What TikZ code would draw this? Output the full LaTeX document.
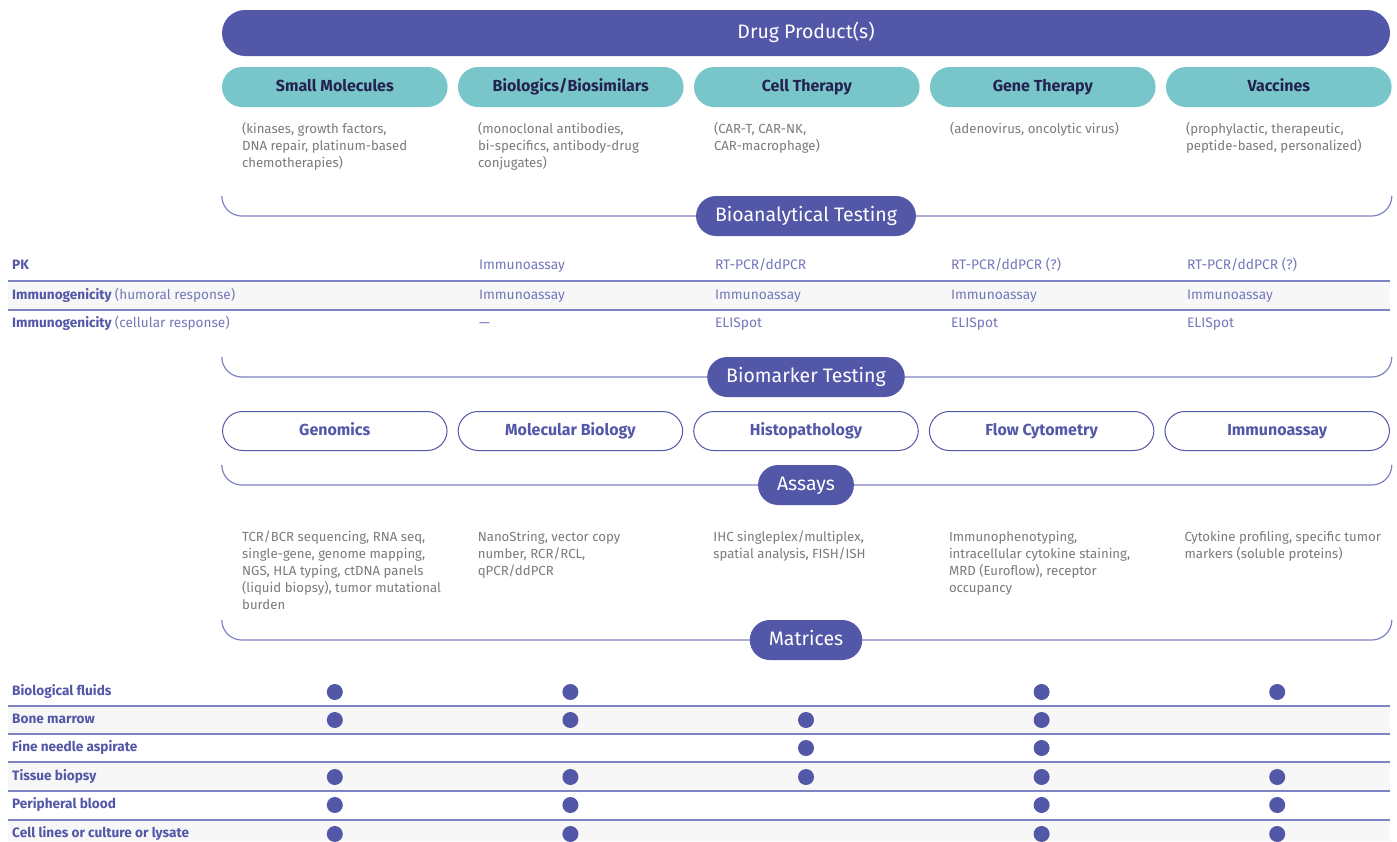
\documentclass[tikz,border=0pt]{standalone}
\usepackage{fontspec}
\setmainfont{Fira Sans}
\usepackage{tikz}
\usetikzlibrary{positioning}
\usepackage{xcolor}
\definecolor{drugPurple}{HTML}{5257A8}
\definecolor{drugTeal}{HTML}{79C6CA}
\definecolor{drugNavy}{HTML}{24224F}
\definecolor{drugGrey}{HTML}{7A7B7D}
\definecolor{cellPurple}{HTML}{7478BA}
\definecolor{rulePurple}{HTML}{7E83C3}
\definecolor{rowShade}{HTML}{F7F7F7}

\newcommand{\sublabel}[1]{{\mdseries\color{cellPurple}#1}}

\begin{document}
\begin{tikzpicture}[
        x=1pt, y=-1pt,
        node distance=10pt,
        headbar/.style={
          rectangle, rounded corners=23pt, fill=drugPurple,
          text=white, minimum width=1168pt, minimum height=46pt,
          text height=14pt, text depth=4pt,
          font=\fontsize{19.5}{22}\selectfont
        },
        typepill/.style={
          rectangle, rounded corners=20pt, fill=drugTeal,
          text=drugNavy, minimum width=225.6pt, minimum height=40pt,
          text height=11.5pt, text depth=3.5pt,
          font=\bfseries\fontsize{16}{18}\selectfont
        },
        assaypill/.style={
          rectangle, rounded corners=20pt, draw=drugPurple, line width=1pt,
          fill=white, text=drugPurple,
          minimum width=224.6pt, minimum height=39pt,
          text height=11.5pt, text depth=3.5pt,
          font=\bfseries\fontsize{16}{18}\selectfont
        },
        sectionpill/.style={
          rectangle, rounded corners=20pt, fill=drugPurple,
          text=white, minimum height=40pt, inner xsep=19pt,
          text height=14pt, text depth=4pt,
          font=\fontsize{19.5}{22}\selectfont
        },
        desc/.style={
          anchor=north west, align=left, inner sep=0pt,
          text=drugGrey, font=\fontsize{13.2}{17}\selectfont
        },
        rowlabel/.style={
          anchor=west, inner sep=0pt, text=drugPurple,
          text height=10pt, text depth=3pt,
          font=\bfseries\fontsize{13.6}{16}\selectfont
        },
        cellTxt/.style={
          anchor=west, inner sep=0pt, text=cellPurple,
          text height=10pt, text depth=3pt,
          font=\fontsize{13.8}{16}\selectfont
        },
        dot/.style={circle, fill=drugPurple, minimum size=16pt, inner sep=0pt},
        bracket/.style={draw=rulePurple, line width=1.2pt, rounded corners=20pt},
        rule/.style={draw=rulePurple, line width=1.4pt}
      ]
      \useasboundingbox[fill=white] (0,0) rectangle (1397,841);

      % Drug products
      \node[headbar] (drug) at (806,33) {Drug Product(s)};
      \node[typepill] (small) at (334.8,87) {Small Molecules};
      \node[typepill, right=of small] (biol) {Biologics/Biosimilars};
      \node[typepill, right=of biol] (cell) {Cell Therapy};
      \node[typepill, right=of cell] (gene) {Gene Therapy};
      \node[typepill, right=of gene] (vacc) {Vaccines};

      \node[desc, xshift=20pt, yshift=-15pt] (smallTxt) at (small.south west) {(kinases, growth factors,\\DNA repair, platinum-based\\chemotherapies)};
      \node[desc, xshift=20pt, yshift=-15pt] (biolTxt) at (biol.south west) {(monoclonal antibodies,\\bi-specifics, antibody-drug\\conjugates)};
      \node[desc, xshift=20pt, yshift=-15pt] (cellTxt) at (cell.south west) {(CAR-T, CAR-NK,\\CAR-macrophage)};
      \node[desc, xshift=20pt, yshift=-15pt] (geneTxt) at (gene.south west) {(adenovirus, oncolytic virus)};
      \node[desc, xshift=20pt, yshift=-15pt] (vaccTxt) at (vacc.south west) {(prophylactic, therapeutic,\\peptide-based, personalized)};

      % Bioanalytical testing
      \coordinate (bioL) at (small.west |- 0,196);
      \coordinate (bioR) at (vacc.east |- 0,196);
      \draw[bracket] (bioL) -- ++(0,20) -| (bioR);
      \node[sectionpill] (bioan) at (806,216) {Bioanalytical Testing};

      \fill[rowShade] (8,281) rectangle (1390,310);
      \draw[rule] (8,281) -- (1390,281);
      \draw[rule] (8,310) -- (1390,310);

      \node[rowlabel] (pk) at (12,266) {PK};
      \node[rowlabel] (humoral) at (12,296) {Immunogenicity \sublabel{(humoral response)}};
      \node[rowlabel] (cellular) at (12,324) {Immunogenicity \sublabel{(cellular response)}};

      \node[cellTxt, xshift=21pt] (pkBiol) at (biol.west |- pk) {Immunoassay};
      \node[cellTxt, xshift=21pt] (pkCell) at (cell.west |- pk) {RT-PCR/ddPCR};
      \node[cellTxt, xshift=21pt] (pkGene) at (gene.west |- pk) {RT-PCR/ddPCR (?)};
      \node[cellTxt, xshift=21pt] (pkVacc) at (vacc.west |- pk) {RT-PCR/ddPCR (?)};
      \node[cellTxt, xshift=21pt] (humBiol) at (biol.west |- humoral) {Immunoassay};
      \node[cellTxt, xshift=21pt] (humCell) at (cell.west |- humoral) {Immunoassay};
      \node[cellTxt, xshift=21pt] (humGene) at (gene.west |- humoral) {Immunoassay};
      \node[cellTxt, xshift=21pt] (humVacc) at (vacc.west |- humoral) {Immunoassay};
      \node[cellTxt, xshift=21pt] (celBiol) at (biol.west |- cellular) {---};
      \node[cellTxt, xshift=21pt] (celCell) at (cell.west |- cellular) {ELISpot};
      \node[cellTxt, xshift=21pt] (celGene) at (gene.west |- cellular) {ELISpot};
      \node[cellTxt, xshift=21pt] (celVacc) at (vacc.west |- cellular) {ELISpot};

      % Biomarker testing
      \coordinate (bmkL) at (small.west |- 0,357);
      \coordinate (bmkR) at (vacc.east |- 0,357);
      \draw[bracket] (bmkL) -- ++(0,20) -| (bmkR);
      \node[sectionpill] (bmk) at (806,377) {Biomarker Testing};

      \node[assaypill] (genom) at (334.8,431) {Genomics};
      \node[assaypill, right=of genom] (molbio) {Molecular Biology};
      \node[assaypill, right=of molbio] (histo) {Histopathology};
      \node[assaypill, right=of histo] (flow) {Flow Cytometry};
      \node[assaypill, right=of flow] (immuno) {Immunoassay};

      % Assays
      \coordinate (asyL) at (small.west |- 0,465);
      \coordinate (asyR) at (vacc.east |- 0,465);
      \draw[bracket] (asyL) -- ++(0,20) -| (asyR);
      \node[sectionpill] (asy) at (806,485) {Assays};

      \node[desc, xshift=20pt] (genomTxt) at (genom.west |- 0,531) {TCR/BCR sequencing, RNA seq,\\single-gene, genome mapping,\\NGS, HLA typing, ctDNA panels\\(liquid biopsy), tumor mutational\\burden};
      \node[desc, xshift=20pt] (molbioTxt) at (molbio.west |- 0,531) {NanoString, vector copy\\number, RCR/RCL,\\qPCR/ddPCR};
      \node[desc, xshift=20pt] (histoTxt) at (histo.west |- 0,531) {IHC singleplex/multiplex,\\spatial analysis, FISH/ISH};
      \node[desc, xshift=20pt] (flowTxt) at (flow.west |- 0,531) {Immunophenotyping,\\intracellular cytokine staining,\\MRD (Euroflow), receptor\\occupancy};
      \node[desc, xshift=20pt] (immunoTxt) at (immuno.west |- 0,531) {Cytokine profiling, specific tumor\\markers (soluble proteins)};

      % Matrices
      \coordinate (matL) at (small.west |- 0,620);
      \coordinate (matR) at (vacc.east |- 0,620);
      \draw[bracket] (matL) -- ++(0,20) -| (matR);
      \node[sectionpill] (mat) at (806,640) {Matrices};

      \foreach \top/\bot in {706/734, 762/791, 820/841}
        \fill[rowShade] (8,\top) rectangle (1390,\bot);
      \foreach \yy in {706,734,762,791,820}
        \draw[rule] (8,\yy) -- (1390,\yy);

      \foreach \lab/\yy/\cols [count=\r] in {Biological fluids/692/{1,2,4,5},
          Bone marrow/720/{1,2,3,4}, Fine needle aspirate/748/{3,4},
          Tissue biopsy/777/{1,2,3,4,5}, Peripheral blood/805/{1,2,4,5},
          Cell lines or culture or lysate/834/{1,2,4,5}} {
        \node[rowlabel] (mat\r) at (12,\yy) {\lab};
        \foreach \c in \cols {
          \pgfmathsetmacro\cx{334.8+(\c-1)*235.6}
          \node[dot] (dot\r-\c) at (\cx,\yy) {};
        }
      }

    \end{tikzpicture}
\end{document}
